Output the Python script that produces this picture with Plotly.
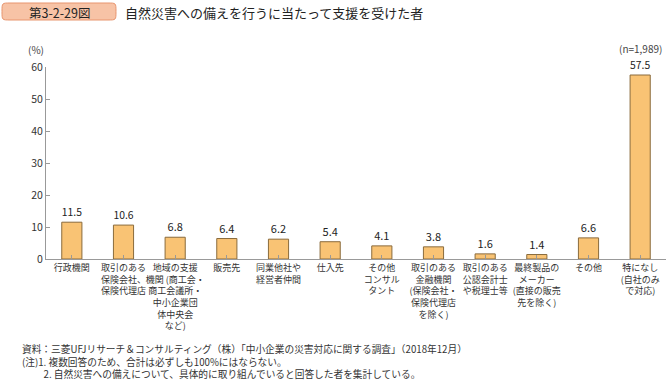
import plotly.graph_objects as go

categories = [
    "行政機関",
    "取引のある<br>保険会社、<br>保険代理店",
    "地域の支援<br>機関 (商工会・<br>商工会議所・<br>中小企業団<br>体中央会<br>など)",
    "販売先",
    "同業他社や<br>経営者仲間",
    "仕入先",
    "その他<br>コンサル<br>タント",
    "取引のある<br>金融機関<br>(保険会社・<br>保険代理店<br>を除く)",
    "取引のある<br>公認会計士<br>や税理士等",
    "最終製品の<br>メーカー<br>(直接の販売<br>先を除く)",
    "その他",
    "特になし<br>(自社のみ<br>で対応)",
]
values = [11.5, 10.6, 6.8, 6.4, 6.2, 5.4, 4.1, 3.8, 1.6, 1.4, 6.6, 57.5]
y_ticks = [0, 10, 20, 30, 40, 50, 60]
notes = [
    "資料：三菱UFJリサーチ＆コンサルティング（株）「中小企業の災害対応に関する調査」（2018年12月）",
    "(注)1. 複数回答のため、合計は必ずしも100%にはならない。",
    "　　&nbsp;2. 自然災害への備えについて、具体的に取り組んでいると回答した者を集計している。",
]

W, H = 666, 380
L, R, T, B = 46, 0, 67, 121
FONT = "Noto Sans CJK JP"

def px2paper(px, py):
    return (px - L) / (W - L - R), (H - B - py) / (H - T - B)

fig = go.Figure()
fig.add_trace(go.Bar(
    x=list(range(len(categories))), y=values,
    width=0.39,
    marker=dict(color="#F9C374", line=dict(color="#8A6B3C", width=1)),
    text=[f"{v:.1f}" for v in values], textposition="outside",
    textfont=dict(size=11, color="#222222", family=FONT),
    cliponaxis=False,
))

# rounded badge
x0, y0, x1, y1, r = 2, 3, 116, 20, 8
def P(x, y):
    a, b = px2paper(x, y)
    return f"{a:.5f},{b:.5f}"
path = (f"M {P(x0+r,y0)} L {P(x1-r,y0)} C {P(x1,y0)} {P(x1,y0)} {P(x1,(y0+y1)/2)} "
        f"C {P(x1,y1)} {P(x1,y1)} {P(x1-r,y1)} L {P(x0+r,y1)} "
        f"C {P(x0,y1)} {P(x0,y1)} {P(x0,(y0+y1)/2)} C {P(x0,y0)} {P(x0,y0)} {P(x0+r,y0)} Z")
fig.add_shape(type="path", path=path, xref="paper", yref="paper",
              fillcolor="#F7C3A6", line=dict(color="#E8956E", width=1))

def ann(text, px, py, size, xanchor="left", color="#333333", yanchor="middle", align="left"):
    ax, ay = px2paper(px, py)
    fig.add_annotation(text=text, x=ax, y=ay, xref="paper", yref="paper",
                       xanchor=xanchor, yanchor=yanchor, showarrow=False, align=align,
                       borderpad=0,
                       font=dict(size=size, color=color, family=FONT))

ann("第3-2-29図", 59, 12, 12.5, xanchor="center", color="#222222")
ann("自然災害への備えを行うに当たって支援を受けた者", 124, 12, 13, color="#222222")
ann("(%)", 36, 50, 10, xanchor="center", color="#444444")
ann("(n=1,989)", 640, 48, 10, xanchor="center", color="#444444")
ann("<br>".join(notes), 21, 361, 9.7)

fig.update_layout(
    width=W, height=H, margin=dict(l=L, r=R, t=T, b=B),
    paper_bgcolor="white", plot_bgcolor="white", showlegend=False,
    font=dict(family=FONT, color="#333333"),
)
fig.update_xaxes(
    tickmode="array", tickvals=list(range(len(categories))), ticktext=categories,
    range=[-0.5, len(categories) - 0.5], tickson="boundaries",
    ticks="inside", ticklen=4, tickcolor="#999999",
    showline=True, linecolor="#999999", linewidth=1, showgrid=False,
    tickfont=dict(size=9, color="#333333", family=FONT), tickangle=0,
    automargin=False,
)
fig.update_yaxes(
    range=[0, 60], tickvals=y_ticks, ticks="inside", ticklen=4, tickcolor="#999999",
    showline=True, linecolor="#999999", linewidth=1, showgrid=False, zeroline=False,
    tickfont=dict(size=10.5, color="#333333", family=FONT), automargin=False,
)
fig.write_html("out.html", config={"displayModeBar": False},
               post_script="document.body.style.margin='0';")
